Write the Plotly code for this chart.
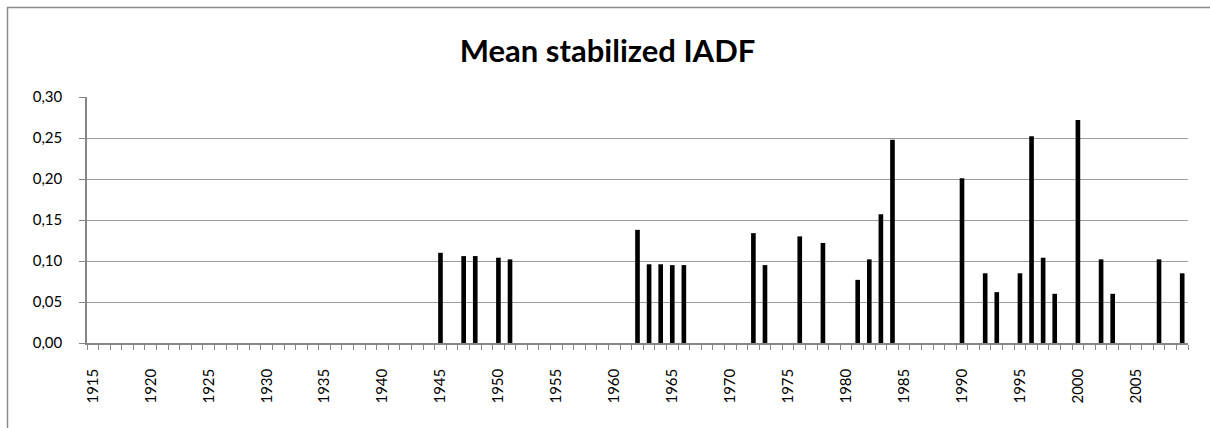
import plotly.graph_objects as go

years = [1945, 1947, 1948, 1950, 1951, 1962, 1963, 1964, 1965, 1966, 1972, 1973, 1976,
         1978, 1981, 1982, 1983, 1984, 1990, 1992, 1993, 1995, 1996, 1997, 1998, 2000,
         2002, 2003, 2007, 2009]
values = [0.110, 0.106, 0.106, 0.104, 0.102, 0.138, 0.096, 0.096, 0.095, 0.095, 0.134, 0.095, 0.130,
          0.122, 0.077, 0.102, 0.157, 0.248, 0.201, 0.085, 0.062, 0.085, 0.252, 0.104, 0.060, 0.272,
          0.102, 0.060, 0.102, 0.085]
first_year, last_year = 1915, 2009
label_years = list(range(1915, 2010, 5))
y_ticks = [0, 0.05, 0.10, 0.15, 0.20, 0.25, 0.30]
title_text = "Mean stabilized IADF"

W, H = 1210, 428
L, R, T, B = 87, 22, 97, 85
pw, ph = W - L - R, H - T - B

def px_to_paper_x(px):
    return (px - L) / pw

def px_to_paper_y(py):
    return (H - B - py) / ph

fig = go.Figure()
fig.add_trace(go.Bar(x=years, y=values, width=0.4, marker=dict(color="black", line=dict(width=0))))

axis_color = "#868686"
fig.update_layout(
    width=W, height=H,
    margin=dict(l=L, r=R, t=T, b=B),
    paper_bgcolor="white", plot_bgcolor="white",
    separators=",.",
    showlegend=False,
    font=dict(family="Lato, Open Sans, sans-serif", color="black", size=15),
    title=dict(text="<b>" + title_text + "</b>", x=607.5 / W, xanchor="center",
               y=1 - 51 / H, yanchor="middle",
               font=dict(family="Lato, Open Sans, sans-serif", size=31, color="black")),
    xaxis=dict(
        range=[first_year - 0.5, last_year + 0.5],
        tickmode="array", tickvals=label_years, ticktext=[str(y) for y in label_years],
        tickangle=-90, ticks="", showgrid=False, zeroline=False,
        ticklabelstandoff=18,
        showline=True, linecolor=axis_color, linewidth=1.5,
        minor=dict(tickmode="linear", tick0=first_year - 0.5, dtick=1, ticks="outside",
                   ticklen=5, tickcolor=axis_color, tickwidth=1, showgrid=False),
        tickfont=dict(size=15),
    ),
    yaxis=dict(
        range=[0, 0.30], tickmode="array", tickvals=y_ticks, tickformat=".2f",
        ticks="outside", ticklen=6, tickcolor=axis_color,
        ticklabelstandoff=14,
        showgrid=True, gridcolor="#9c9c9c", gridwidth=1.3,
        showline=True, linecolor=axis_color, linewidth=1.5, zeroline=False,
        tickfont=dict(size=15),
    ),
)

fig.add_shape(type="rect", xref="paper", yref="paper",
              x0=px_to_paper_x(7.5), x1=px_to_paper_x(1230),
              y0=px_to_paper_y(450), y1=px_to_paper_y(7.5),
              line=dict(color="#8a8a8a", width=1.5), fillcolor="rgba(0,0,0,0)", layer="below")

fig.write_html("out.html", config={"displayModeBar": False},
               post_script="document.body.style.margin='0';")
